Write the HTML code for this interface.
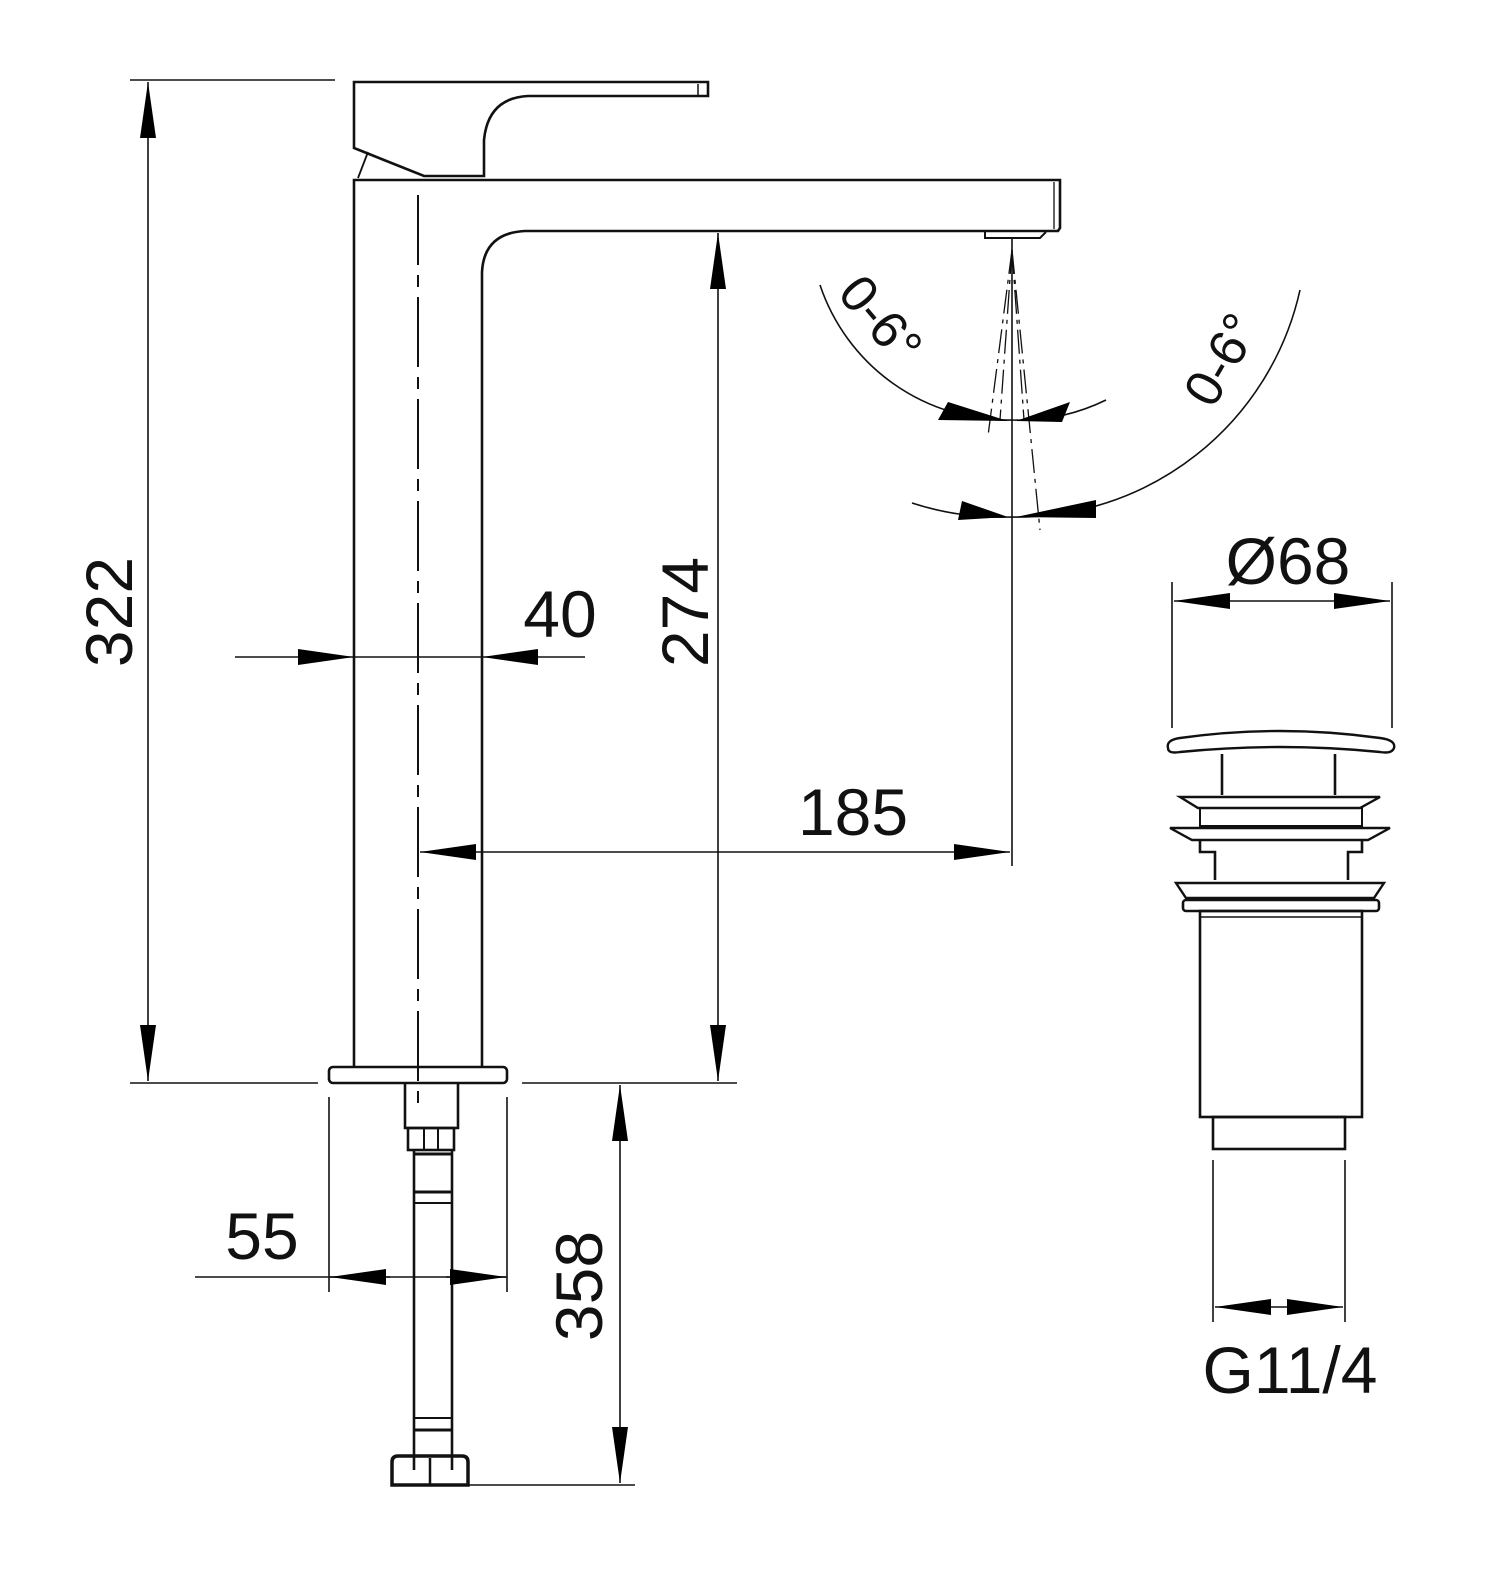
<!DOCTYPE html>
<html><head><meta charset="utf-8"><style>html,body{margin:0;padding:0;background:#fff}svg{display:block}</style></head>
<body>
<svg width="1501" height="1596" viewBox="0 0 1501 1596" xmlns="http://www.w3.org/2000/svg">
<defs>
<marker id="a" viewBox="0 0 56 16" refX="56" refY="8" markerWidth="56" markerHeight="16" markerUnits="userSpaceOnUse" orient="auto-start-reverse"><path d="M0,0 L56,8 L0,16 z" fill="#000"/></marker>
</defs>
<g fill="none" stroke="#111" stroke-width="2.6">
<path d="M354,82 L708,82 L708,96 L528,96 Q488,98 484,140 L484,176 L424,176 L354,148 Z"/>
<line x1="698" y1="84" x2="698" y2="95" stroke-width="1.5"/>
<path d="M368,152 L358,178" stroke-width="1.8"/>
<path d="M354,1067 L354,180 L1060,180 L1060,228 L1058,231 L525,231 Q484,233 482,272 L482,1067"/>
<line x1="1054" y1="182" x2="1054" y2="229" stroke-width="1.3"/>
<path d="M985,232 L985,238 L1040,238 L1046,232" stroke-width="2"/>
<rect x="329" y="1067" width="178" height="16" rx="4"/>
<path d="M405,1084 L405,1128 L458,1128 L458,1084"/>
<rect x="408" y="1128" width="46" height="22"/>
<line x1="424" y1="1128" x2="424" y2="1150" stroke-width="2"/>
<line x1="438" y1="1128" x2="438" y2="1150" stroke-width="2"/>
<line x1="414" y1="1150" x2="414" y2="1470"/>
<line x1="452" y1="1150" x2="452" y2="1470"/>
<line x1="414" y1="1154" x2="452" y2="1154" stroke-width="3"/>
<line x1="414" y1="1192" x2="452" y2="1192" stroke-width="3"/>
<line x1="414" y1="1203" x2="452" y2="1203" stroke-width="2"/>
<line x1="414" y1="1418" x2="452" y2="1418" stroke-width="2"/>
<line x1="414" y1="1430" x2="452" y2="1430" stroke-width="3"/>
<path d="M392,1485 L392,1462 Q392,1456 398,1456 L462,1456 Q468,1456 468,1462 L468,1485 Z" stroke-width="3.5"/>
<line x1="430" y1="1458" x2="430" y2="1485" stroke-width="2.5"/>
<line x1="418" y1="195" x2="418" y2="1108" stroke-dasharray="70,10,12,10" stroke-width="2"/>
<g stroke-width="1.6">
<line x1="130" y1="80" x2="335" y2="80"/>
<line x1="148" y1="82" x2="148" y2="1081" marker-start="url(#a)" marker-end="url(#a)"/>
<line x1="130" y1="1083" x2="318" y2="1083"/>
<line x1="522" y1="1083" x2="737" y2="1083"/>
<line x1="718" y1="233" x2="718" y2="1081" marker-start="url(#a)" marker-end="url(#a)"/>
<line x1="235" y1="657" x2="354" y2="657" marker-end="url(#a)"/>
<line x1="585" y1="657" x2="482" y2="657" marker-end="url(#a)"/>
<line x1="354" y1="657" x2="482" y2="657"/>
<line x1="420" y1="852" x2="1010" y2="852" marker-start="url(#a)" marker-end="url(#a)"/>
<line x1="1012" y1="238" x2="1012" y2="866"/>
<line x1="329" y1="1097" x2="329" y2="1292"/>
<line x1="507" y1="1097" x2="507" y2="1292"/>
<line x1="195" y1="1277" x2="507" y2="1277"/>
<line x1="390" y1="1277" x2="330" y2="1277" marker-end="url(#a)"/>
<line x1="446" y1="1277" x2="506" y2="1277" marker-end="url(#a)"/>
<line x1="620" y1="1085" x2="620" y2="1483" marker-start="url(#a)" marker-end="url(#a)"/>
<line x1="465" y1="1485" x2="635" y2="1485"/>
<path d="M820,285 A198,198 0 0 0 1012,420 A198,198 0 0 0 1106,400" />
<path d="M912,503 A290,290 0 0 0 1012,517 A290,290 0 0 0 1300,290"/>
<line x1="1012" y1="250" x2="988" y2="436" stroke-dasharray="24,6,4,6" stroke-width="1.3"/>
<line x1="1012" y1="250" x2="1040" y2="530" stroke-dasharray="24,6,4,6" stroke-width="1.3"/>
<line x1="1012" y1="250" x2="1000" y2="420" stroke-dasharray="24,6,4,6" stroke-width="1.3"/>
<line x1="1012" y1="250" x2="1024" y2="420" stroke-dasharray="24,6,4,6" stroke-width="1.3"/>
<line x1="1172" y1="582" x2="1172" y2="728"/>
<line x1="1392" y1="582" x2="1392" y2="728"/>
<line x1="1174" y1="601" x2="1390" y2="601" marker-start="url(#a)" marker-end="url(#a)"/>
<line x1="1213" y1="1160" x2="1213" y2="1322"/>
<line x1="1345" y1="1160" x2="1345" y2="1322"/>
<line x1="1215" y1="1307" x2="1343" y2="1307" marker-start="url(#a)" marker-end="url(#a)"/>
</g>
<path d="M1168,748 Q1166,740 1180,738 Q1280,724 1380,738 Q1396,740 1394,748 Q1392,754 1380,752 Q1280,742 1180,752 Q1168,754 1168,748 Z" stroke-width="2.4"/>
<line x1="1222" y1="754" x2="1222" y2="795"/>
<line x1="1335" y1="754" x2="1335" y2="795"/>
<path d="M1180,797 L1380,797 L1360,808 L1198,808 Z" stroke-width="2.4"/>
<rect x="1200" y="808" width="162" height="18" stroke-width="2"/>
<path d="M1170,828 L1390,828 L1368,840 L1192,840 Z" stroke-width="2.4"/>
<path d="M1200,840 L1200,852 L1215,852 L1215,880 M1362,840 L1362,852 L1348,852 L1348,880"/>
<path d="M1176,883 L1384,883 L1374,898 L1186,898 Z" stroke-width="2.4"/>
<rect x="1183" y="900" width="196" height="11" rx="3" stroke-width="2.6"/>
<rect x="1200" y="911" width="162" height="206"/>
<line x1="1200" y1="917" x2="1362" y2="917" stroke-width="1.4"/>
<rect x="1213" y="1117" width="132" height="32"/>
</g>
<g fill="#000">
<path d="M1008,421 L948,402 L938,420 Z"/>
<path d="M1016,421 L1070,402 L1062,422 Z"/>
<path d="M1008,517 L962,501 L958,520 Z"/>
<path d="M1016,517 L1096,500 L1096,518 Z"/>
</g>
<g font-family="Liberation Sans, sans-serif" font-size="66" fill="#111">
<text x="110" y="612" text-anchor="middle" transform="rotate(-90 110 612)" dy="22">322</text>
<text x="686" y="612" text-anchor="middle" transform="rotate(-90 686 612)" dy="22">274</text>
<text x="560" y="637" text-anchor="middle">40</text>
<text x="853" y="835" text-anchor="middle">185</text>
<text x="262" y="1259" text-anchor="middle">55</text>
<text x="580" y="1286" text-anchor="middle" transform="rotate(-90 580 1286)" dy="22">358</text>
<text x="1288" y="584" text-anchor="middle">Ø68</text>
<text x="1290" y="1393" text-anchor="middle">G11/4</text>
<text x="880" y="320" text-anchor="middle" font-size="52" transform="rotate(50 880 320)" dy="17">0-6°</text>
<text x="1222" y="360" text-anchor="middle" font-size="52" transform="rotate(-60 1222 360)" dy="17">0-6°</text>
</g>
</svg>
</body></html>
